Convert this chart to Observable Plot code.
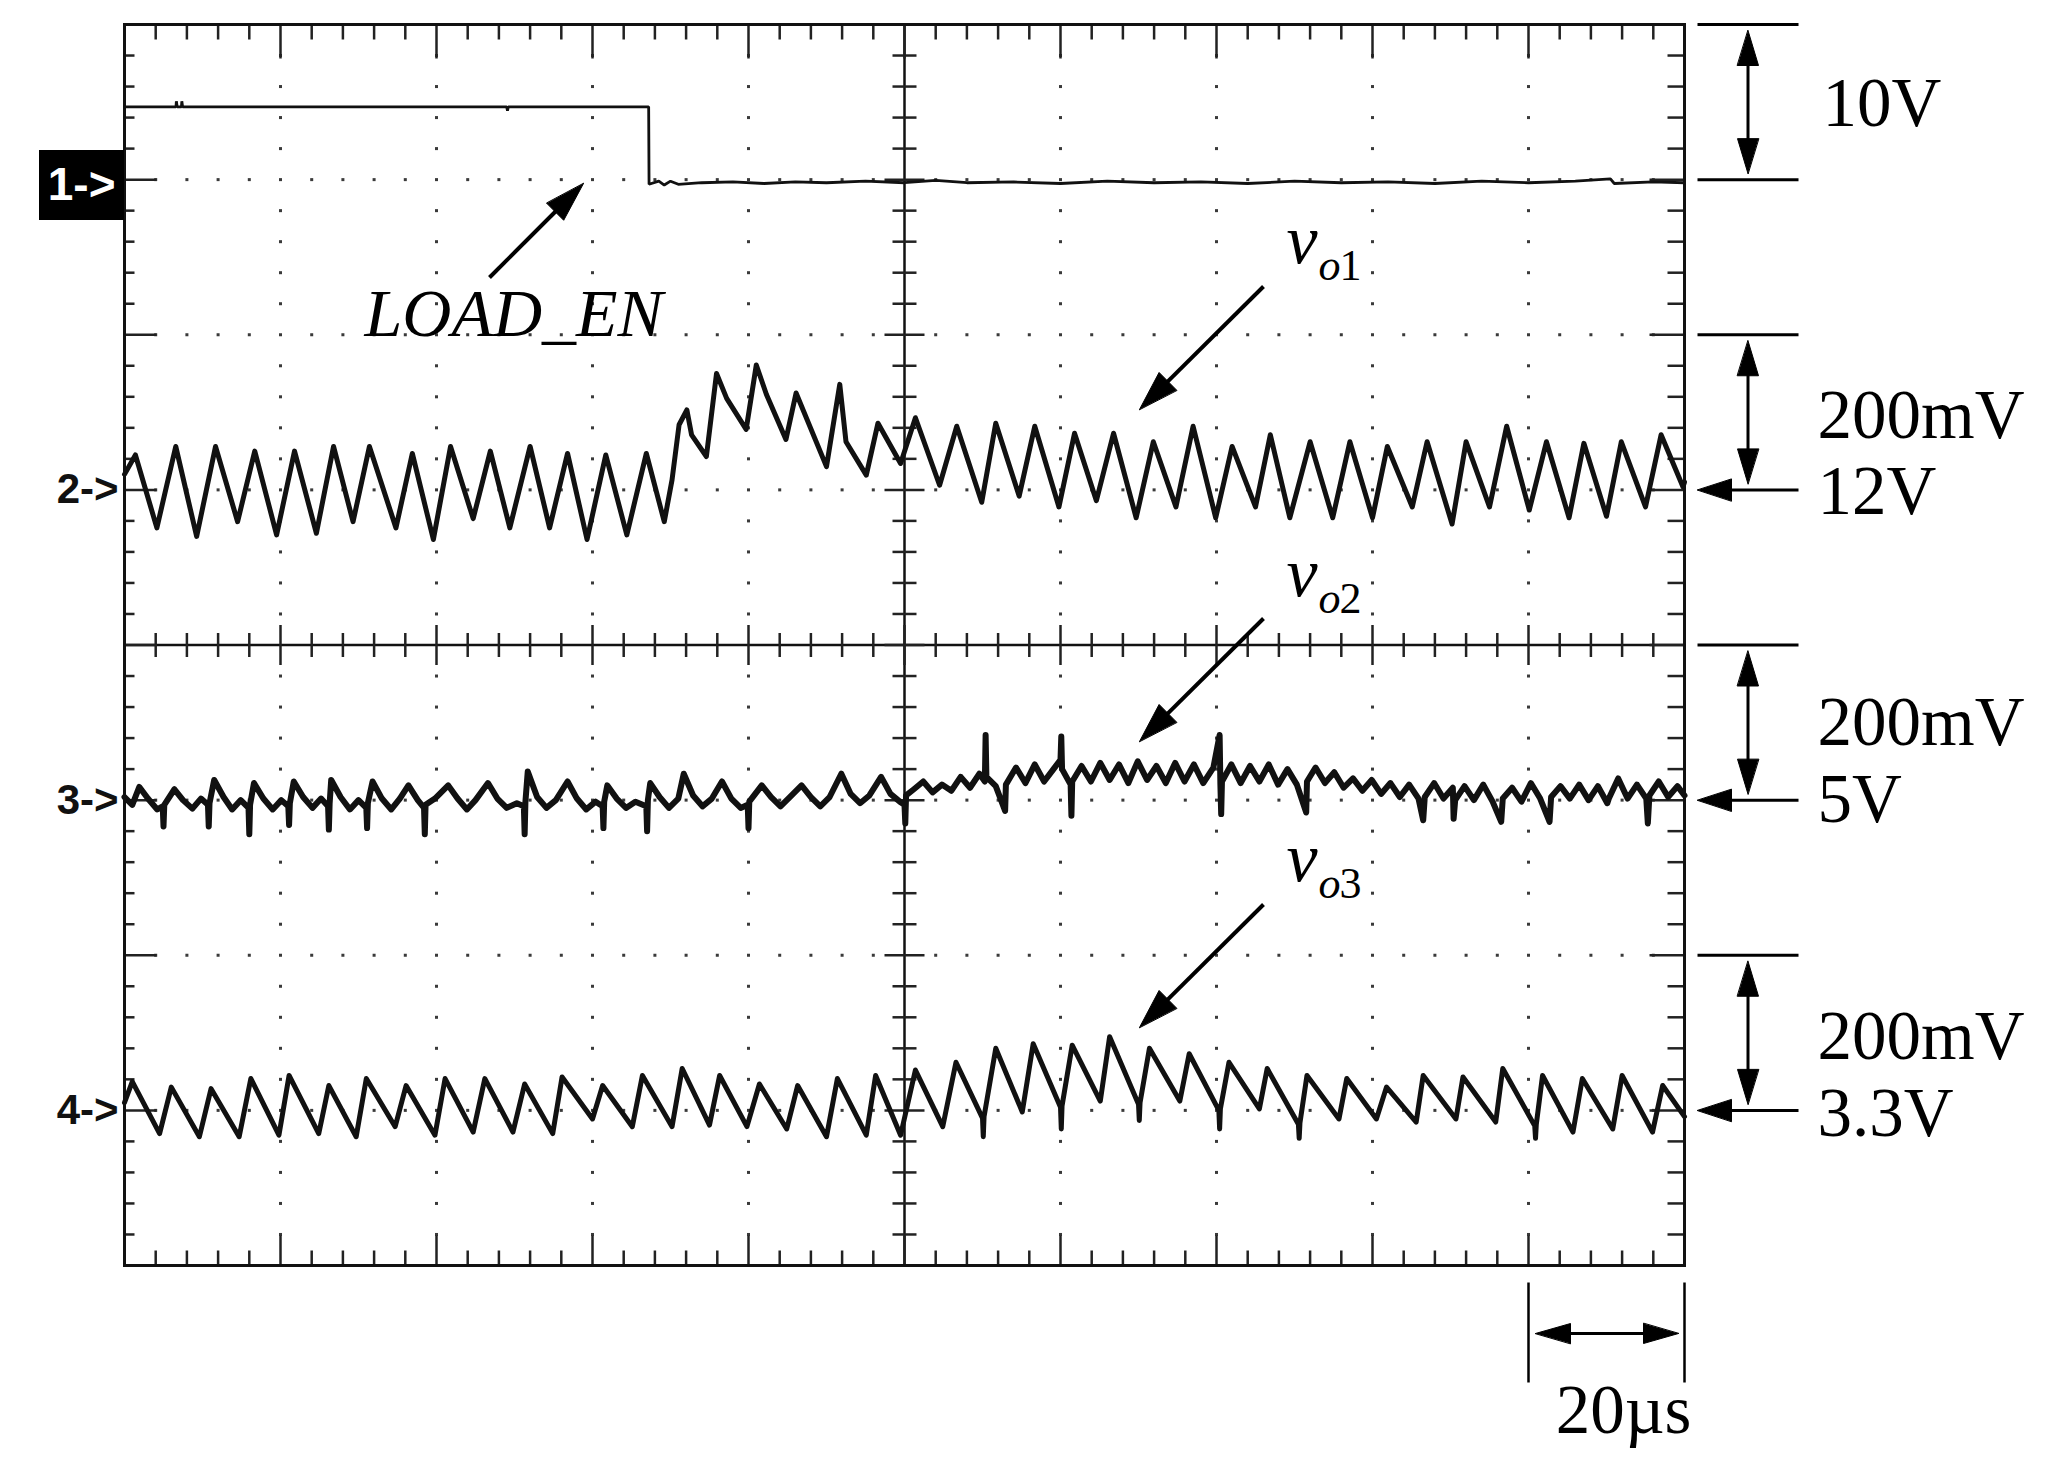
<!DOCTYPE html>
<html><head><meta charset="utf-8">
<script src="https://cdn.jsdelivr.net/npm/d3@7"></script>
<script src="https://cdn.jsdelivr.net/npm/@observablehq/plot@0.6"></script>
<style>html,body{margin:0;padding:0;background:#fff;overflow:hidden} svg{display:block}</style>
</head><body><div id="chart"></div>
<script>
// ================= DATA =================
// time axis in µs (10 divisions x 20 µs), vertical axis in screen divisions (8 divisions)
const timeDomainUs = [0, 200];
const divDomain = [-4, 4];
const channelTags = ["1->", "2->", "3->", "4->"];
const channelRefDiv = [3, 1, -1, -3];          // ground / reference marker of each channel
const channelPerDiv = [10, 200, 200, 200];     // V/div (ch1), mV/div (ch2..4)
const scaleLabels = ["10V", "200mV", "200mV", "200mV"];
const refLabels = ["", "12V", "5V", "3.3V"];
const timeLabel = "20µs";
const traceNames = ["LOAD_EN", "o1", "o2", "o3"];

// ch1 LOAD_EN [µs, V]
const ch1Trace = [[0,4.69],[6.6,4.69],[6.65,5.05],[6.75,4.69],[7.3,4.69],[7.35,5.05],[7.45,4.69],[49.0,4.69],[49.1,4.45],[49.2,4.69],[67.2,4.69],
[67.25,-0.3],[68.5,-0.1],[69.2,-0.35],[70.0,-0.1],[71.0,-0.3],[74,-0.2],[78,-0.15],[82,-0.25],[86,-0.15],[90,-0.2],[95,-0.1],[100,-0.2],[104,-0.05],[108,-0.2],[114,-0.15],[120,-0.25],[126,-0.1],[132,-0.2],[138,-0.15],[144,-0.25],[150,-0.1],[156,-0.2],[162,-0.15],[168,-0.25],[174,-0.1],[180,-0.2],[186,-0.1],[190.5,0.05],[191,-0.25],[196,-0.15],[200,-0.2]];

// ch2 vo1 [µs, mV about 12 V]
const ch2Trace = [[0,20],[1.4,45],[4.15,-49],[6.57,56],[9.25,-60],[11.67,56],[14.5,-41],[16.7,50],[19.5,-58],[21.8,50],[24.6,-56],[26.8,56],[29.3,-41],[31.4,56],[34.8,-49],[36.9,47],[39.6,-64],[41.8,56],[44.7,-37],[46.9,50],[49.4,-49],[52.0,56],[54.5,-49],[56.8,47],[59.3,-64],[61.7,45],[64.4,-58],[66.9,47],[69.2,-41],
[70.2,13],[71.1,84],[72.1,103],[72.7,71],[74.6,43],[75.9,150],[77.2,118],[79.7,78],[81.0,161],[82.3,123],[84.8,65],[86.1,125],[90.0,30],[91.7,136],[92.5,62],[95.1,19],[96.6,86],[99.5,34],
[101.4,93],[104.5,6],[106.7,82],[109.9,-16],[111.7,86],[114.7,-8],[116.7,82],[119.8,-22],[121.8,73],[124.6,-14],[126.8,73],[129.7,-36],[131.9,62],[134.8,-22],[137.0,82],[139.9,-36],[142.0,56],[145.0,-22],[146.9,71],[149.4,-36],[152.0,62],[154.9,-36],[157.1,62],[160.0,-36],[161.9,56],[165.1,-22],[167.0,62],[170.2,-44],[172.0,62],[175.0,-22],[177.2,82],[180.1,-26],[182.3,62],[185.2,-36],[187.1,60],[190.0,-34],[191.9,62],[195.0,-22],[197.0,71],[199.8,4],[200,10]];

// ch3 vo2 [µs, mV about 5 V]
const ch3Trace = [[0,4],[1.0,-6],[1.9,17],[3.0,2],[4.2,-12],[4.9,-8],[5.0,-34],[5.1,-6],[6.4,14],[7.5,0],[8.7,-11],[9.8,2],[10.7,-6],[10.8,-34],[10.9,-4],[11.5,26],[12.7,4],[13.8,-12],[14.9,0],[15.9,-10],[16.0,-44],[16.1,-6],[16.6,22],[17.8,2],[19.0,-12],[20.1,0],[21.0,-8],[21.1,-32],[21.2,-4],[21.7,24],[22.9,4],[24.1,-10],[25.2,2],[26.1,-8],[26.2,-38],[26.3,-4],[26.5,26],[27.7,4],[28.9,-12],[30.0,0],[31.0,-10],[31.1,-36],[31.2,-4],[31.8,24],[33.0,2],[34.2,-12],[35.3,2],[36.4,19],[37.6,0],[38.4,-10],[38.5,-44],[38.6,-6],[39.8,2],[41.5,19],[42.7,2],[43.9,-12],[45.0,0],[46.6,22],[47.8,2],[49.0,-10],[50.3,-4],[51.2,-8],[51.3,-44],[51.4,-2],[51.7,37],[52.9,4],[54.1,-10],[55.3,0],[56.8,24],[58.0,2],[59.2,-12],[60.4,-2],[61.3,-8],[61.4,-36],[61.5,-2],[61.9,19],[63.1,2],[64.3,-10],[65.5,-2],[66.9,-8],[67.0,-40],[67.1,0],[67.4,22],[68.6,4],[69.8,-10],[71.0,2],[71.7,34],[72.9,6],[74.1,-8],[75.3,2],[76.6,24],[77.8,2],[79.0,-10],[79.9,-6],[80.0,-36],[80.1,-2],[81.7,19],[82.9,4],[84.1,-8],[85.3,4],[86.8,19],[88.0,4],[89.2,-8],[90.4,4],[91.9,34],[93.1,8],[94.3,-4],[95.5,6],[97.0,30],[98.2,8],[99.4,-2],
[100.0,-6],[100.1,-30],[100.2,6],[101.2,14],[102.4,24],[103.6,10],[104.8,20],[106.0,12],[107.2,30],[108.4,16],[109.6,34],[110.3,24],[110.4,84],[110.5,30],[111.7,18],[112.9,-14],[113.0,20],[114.3,42],[115.5,22],[116.7,46],[117.9,24],[119.1,40],[120.0,52],[120.1,82],[120.2,40],[121.3,20],[121.4,-20],[121.5,24],[122.7,44],[123.9,24],[125.1,48],[126.3,26],[127.5,46],[128.7,22],[129.9,50],[131.1,26],[132.3,44],[133.5,22],[134.7,48],[135.9,24],[137.1,46],[138.3,22],[139.6,42],[140.4,84],[140.5,20],[140.6,-18],[140.7,24],[141.9,46],[143.1,22],[144.3,44],[145.5,24],[146.7,46],[147.9,20],[149.1,40],[150.3,20],[151.5,-16],[151.6,24],[152.7,42],[153.9,22],[155.1,36],[156.3,16],[157.5,28],[158.7,12],[159.9,26],[161.1,8],[162.3,22],[163.5,4],[164.7,20],[165.9,2],[166.5,-26],[166.7,4],[167.9,22],[169.1,2],[170.3,16],[170.4,-24],[170.6,0],[171.8,18],[173.0,0],[174.2,20],[175.4,-2],[176.5,-28],[176.7,2],[177.9,16],[179.1,-2],[180.3,22],[181.5,2],[182.7,-28],[182.9,4],[184.1,18],[185.3,2],[186.5,20],[187.7,0],[188.9,18],[190.1,-4],[190.3,2],[191.5,28],[192.7,2],[193.9,20],[195.1,2],[195.3,-30],[195.5,6],[196.7,24],[197.9,4],[199.1,18],[200,6]];

// ch4 vo3 [µs, mV about 3.3 V]
const ch4Trace = [[0,10],[1.0,37],[4.5,-30],[6.0,30],[9.6,-34],[11.1,28],[14.7,-34],[16.2,41],[19.8,-32],[21.1,45],[24.9,-30],[26.2,32],[29.7,-34],[31.0,41],[34.7,-21],[36.1,32],[39.8,-32],[41.1,41],[44.7,-28],[46.2,41],[49.8,-28],[51.3,34],[54.9,-30],[56.1,43],[60.0,-11],[61.3,32],[65.1,-21],[66.4,45],[70.2,-21],[71.5,54],[75.0,-19],[76.3,45],[79.8,-21],[81.4,34],[84.9,-24],[86.3,32],[90.0,-34],[91.4,41],[95.1,-32],[96.3,45],[99.5,-32],
[101.4,52],[104.9,-21],[106.6,62],[110.0,-10],[110.1,-34],[110.2,-8],[111.7,80],[115.1,-2],[116.5,86],[120.0,4],[120.1,-24],[120.2,6],[121.5,84],[125.1,12],[126.3,95],[130.0,8],[130.1,-13],[130.2,10],[131.4,80],[135.3,12],[136.5,73],[140.3,0],[140.4,-24],[140.5,2],[141.6,62],[145.5,2],[146.5,54],[150.5,-18],[150.6,-36],[150.7,-16],[151.6,45],[155.7,-11],[156.7,41],[160.5,-11],[161.8,30],[165.6,-15],[166.5,45],[170.7,-11],[171.6,43],[175.8,-15],[176.7,54],[180.8,-20],[180.9,-36],[181.0,-18],[181.8,45],[185.7,-28],[186.9,41],[190.8,-24],[192.0,45],[195.9,-28],[197.2,32],[200,-8]];

const traces = [ch1Trace, ch2Trace, ch3Trace, ch4Trace];

// ================= LAYOUT =================
const W = 2052, H = 1464;
const mL = 124, mR = 368, mT = 24, mB = 199;
const PW = W - mL - mR, PH = H - mT - mB;
const pxT = PW / (timeDomainUs[1] - timeDomainUs[0]);
const pxD = PH / (divDomain[1] - divDomain[0]);
const tOf = px => timeDomainUs[0] + (px - mL) / pxT;   // pixel -> µs
const dOf = py => divDomain[1] - (py - mT) / pxD;      // pixel -> div

const ink = "#111";
const serif = "Liberation Serif, Times New Roman, serif";
const sans = "Liberation Sans, Arial, sans-serif";

// graticule
const minorT = d3.range(0, 200.001, 4).map(v => +v.toFixed(3));
const minorD = d3.range(-4, 4.001, 0.2).map(v => +v.toFixed(3));
const isMajorT = t => Math.abs(t / 20 - Math.round(t / 20)) < 1e-6;
const isMajorD = d => Math.abs(d - Math.round(d)) < 1e-6;

const gridDots = [];
for (const t of minorT) if (isMajorT(t) && t > 0 && t < 200 && t !== 100)
  for (const d of minorD) if (d > -4 && d < 4 && d !== 0) gridDots.push({t, d});
for (const d of [-3, -2, -1, 1, 2, 3])
  for (const t of minorT) if (t > 0 && t < 200 && !isMajorT(t)) gridDots.push({t, d});

const ticks = [];
for (const t of minorT) {
  if (t <= 0 || t >= 200) continue;
  const M = isMajorT(t);
  ticks.push({t1: t, t2: t, d1: 4, d2: 4 - (M ? 34 : 15) / pxD});
  ticks.push({t1: t, t2: t, d1: -4, d2: -4 + (M ? 30 : 15) / pxD});
  const c = (M ? 20 : 12) / pxD;
  ticks.push({t1: t, t2: t, d1: -c, d2: c});
}
for (const d of minorD) {
  if (d <= -4 || d >= 4) continue;
  const M = isMajorD(d);
  ticks.push({t1: 0, t2: (M ? 32 : 10) / pxT, d1: d, d2: d});
  ticks.push({t1: 200, t2: 200 - (M ? 35 : 17) / pxT, d1: d, d2: d});
  const c = (M ? 20 : 12) / pxT;
  ticks.push({t1: 100 - c, t2: 100 + c, d1: d, d2: d});
}

// annotation geometry (pixels, converted through the scales' inverse)
const segs = [];   // plain line segments
const heads = [];  // filled triangular arrow heads
let hid = 0;
function arrow(x1, y1, x2, y2, len, hw, both, sw) {
  const L = Math.hypot(x2 - x1, y2 - y1), ux = (x2 - x1) / L, uy = (y2 - y1) / L;
  const addHead = (tx, ty, vx, vy) => {
    const bx = tx - vx * len, by = ty - vy * len, px = -vy, py = vx;
    const id = hid++;
    heads.push({id, t: tOf(tx), d: dOf(ty)});
    heads.push({id, t: tOf(bx + px * hw), d: dOf(by + py * hw)});
    heads.push({id, t: tOf(bx - px * hw), d: dOf(by - py * hw)});
  };
  addHead(x2, y2, ux, uy);
  let sx = x1, sy = y1;
  if (both) { addHead(x1, y1, -ux, -uy); sx = x1 + ux * len * 0.6; sy = y1 + uy * len * 0.6; }
  segs.push({t1: tOf(sx), d1: dOf(sy), t2: tOf(x2 - ux * len * 0.6), d2: dOf(y2 - uy * len * 0.6), sw});
}
function seg(x1, y1, x2, y2, sw) { segs.push({t1: tOf(x1), d1: dOf(y1), t2: tOf(x2), d2: dOf(y2), sw}); }
const yOfDiv = d => mT + (divDomain[1] - d) * pxD;

// right side volt/div bars
const barX1 = 1697, barX2 = 1798, barMid = 1747.5;
const barTops = [4, 2, 0, -2];
barTops.forEach((top, i) => {
  const yt = yOfDiv(top), yb = yOfDiv(top - 1);
  seg(barX1, yt, barX2, yt, 3);
  if (i === 0) seg(barX1, yb, barX2, yb, 3);
  else arrow(barX2, yb, barX1, yb, 34, 11, false, 3);
  arrow(barMid, yt + 6, barMid, yb - 6, 35, 10.5, true, 3);
});
// time/div bar
const tb1 = mL + 180 * pxT, tb2 = mL + 200 * pxT;
seg(tb1, 1282, tb1, 1382, 2.5);
seg(tb2, 1282, tb2, 1382, 2.5);
arrow(tb1 + 7, 1333, tb2 - 6, 1333, 35, 10, true, 3);
// trace pointers
arrow(489, 277, 583, 183, 40, 12, false, 4);
arrow(1263, 286, 1139, 409, 40, 12.5, false, 4);
arrow(1263, 618, 1139, 741, 40, 12.5, false, 4);
arrow(1263, 904, 1139, 1027, 40, 12.5, false, 4);

// text placements
const rightTexts = [
  {s: scaleLabels[0], px: 1822, py: 125},
  {s: scaleLabels[1], px: 1817, py: 437}, {s: refLabels[1], px: 1817, py: 513},
  {s: scaleLabels[2], px: 1817, py: 744}, {s: refLabels[2], px: 1817, py: 821},
  {s: scaleLabels[3], px: 1817, py: 1058}, {s: refLabels[3], px: 1817, py: 1135},
].map(o => ({s: o.s, t: tOf(o.px), d: dOf(o.py)}));

const voBase = [262, 595, 880];
const vTexts = voBase.map(b => ({s: "v", t: tOf(1286), d: dOf(b)}));
const oTexts = voBase.map(b => ({s: traceNames[1][0], t: tOf(1318), d: dOf(b + 17)}));
const numTexts = voBase.map((b, i) => ({s: traceNames[i + 1][1], t: tOf(1339), d: dOf(b + 17)}));

const tagTexts = channelTags.slice(1).map((s, i) => ({s, t: tOf(118), d: channelRefDiv[i + 1]}));

const toPts = (arr, k) => arr.map(([t, v]) => ({t, d: channelRefDiv[k] + v / channelPerDiv[k]}));
const traceWidth = [2.8, 5, 6, 5];

const chart = Plot.plot({
  width: W, height: H,
  marginLeft: mL, marginRight: mR, marginTop: mT, marginBottom: mB,
  x: {domain: timeDomainUs, axis: null},
  y: {domain: divDomain, axis: null},
  style: {background: "#fff", overflow: "visible"},
  marks: [
    Plot.dot(gridDots, {x: "t", y: "d", r: 1.7, symbol: "square", fill: "#3a3a3a"}),
    Plot.ruleX([100], {stroke: ink, strokeWidth: 2.5}),
    Plot.ruleY([0], {stroke: ink, strokeWidth: 2.5}),
    Plot.link(ticks, {x1: "t1", x2: "t2", y1: "d1", y2: "d2", stroke: "#222", strokeWidth: 2.5}),
    Plot.frame({stroke: ink, strokeWidth: 3}),
    // traces
    ...[0, 1, 2, 3].map(k => Plot.line(toPts(traces[k], k), {x: "t", y: "d", stroke: ink, strokeWidth: traceWidth[k], strokeLinejoin: k === 0 ? "miter" : "round"})),
    // channel tags
    Plot.rect([{x1: tOf(39), x2: tOf(124), y1: dOf(220), y2: dOf(150)}], {x1: "x1", x2: "x2", y1: "y1", y2: "y2", fill: "#000"}),
    Plot.text([{s: channelTags[0], t: tOf(115), d: dOf(185)}], {x: "t", y: "d", text: "s", fill: "#fff", fontSize: 46, fontWeight: "bold", fontFamily: sans, textAnchor: "end", lineAnchor: "middle"}),
    Plot.text(tagTexts, {x: "t", y: "d", text: "s", fill: ink, fontSize: 42, fontWeight: "bold", fontFamily: sans, textAnchor: "end", lineAnchor: "middle"}),
    // annotations
    Plot.link(segs, {x1: "t1", x2: "t2", y1: "d1", y2: "d2", stroke: "#000", strokeWidth: "sw"}),
    Plot.line(heads, {x: "t", y: "d", z: "id", fill: "#000", stroke: "#000", strokeWidth: 1, curve: "linear-closed"}),
    Plot.text(rightTexts, {x: "t", y: "d", text: "s", fill: "#000", fontSize: 69, fontFamily: serif, textAnchor: "start", lineAnchor: "bottom"}),
    Plot.text([{s: timeLabel, t: tOf(1623), d: dOf(1432)}], {x: "t", y: "d", text: "s", fill: "#000", fontSize: 69, fontFamily: serif, textAnchor: "middle", lineAnchor: "bottom"}),
    Plot.text([{s: traceNames[0], t: tOf(364), d: dOf(335)}], {x: "t", y: "d", text: "s", fill: "#000", fontSize: 68, fontStyle: "italic", fontFamily: serif, textAnchor: "start", lineAnchor: "bottom"}),
    Plot.text(vTexts, {x: "t", y: "d", text: "s", fill: "#000", fontSize: 70, fontStyle: "italic", fontFamily: serif, textAnchor: "start", lineAnchor: "bottom"}),
    Plot.text(oTexts, {x: "t", y: "d", text: "s", fill: "#000", fontSize: 44, fontStyle: "italic", fontFamily: serif, textAnchor: "start", lineAnchor: "bottom"}),
    Plot.text(numTexts, {x: "t", y: "d", text: "s", fill: "#000", fontSize: 44, fontFamily: serif, textAnchor: "start", lineAnchor: "bottom"})
  ]
});
document.getElementById("chart").appendChild(chart);
</script></body></html>
